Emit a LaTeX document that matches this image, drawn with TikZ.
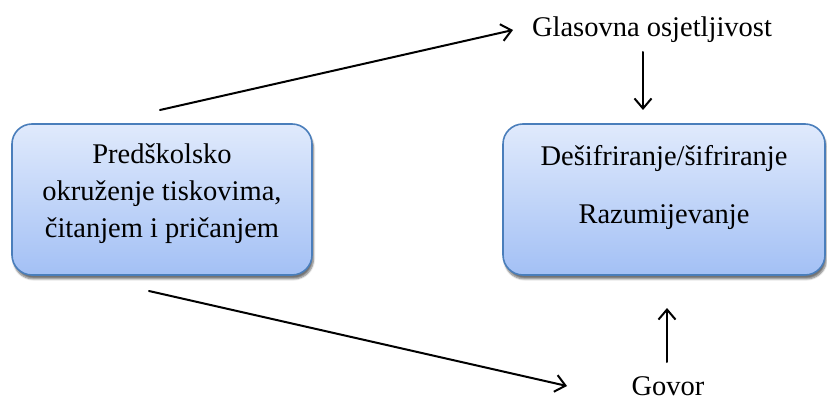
\documentclass[tikz,border=0pt]{standalone}
\usepackage{fontspec}
\setmainfont{Liberation Serif}
\usetikzlibrary{arrows.meta,shadows.blur}
\definecolor{boxtop}{HTML}{E0EAFC}
\definecolor{boxbot}{HTML}{A3C0F5}
\definecolor{boxline}{HTML}{4A7EBB}
\tikzset{
  bluebox/.style={draw=boxline, line width=1.6pt, rounded corners=20pt,
    top color=boxtop, bottom color=boxbot,
    blur shadow={shadow xshift=1.5pt, shadow yshift=-4pt, shadow blur steps=6, shadow opacity=55},
    inner sep=0pt},
  txt/.style={font=\fontsize{28.5}{37}\selectfont, align=center, inner sep=0pt},
  arr/.style={-{Straight Barb[length=10pt,width=17pt,line width=2pt]}, line width=2pt, line cap=round}
}
\begin{document}
\begin{tikzpicture}[x=1pt,y=1pt]
\useasboundingbox (0,0) rectangle (827,402);
\node[bluebox, minimum width=300pt, minimum height=151pt] (lb) at (162,202.5) {};
\node[bluebox, minimum width=322pt, minimum height=151pt] (rb) at (664,202.5) {};
\node[txt] (lt) at (162,208) {Predškolsko\\okruženje tiskovima,\\čitanjem i pričanjem};
\node[txt] (rt) at (664,214.5) {Dešifriranje/šifriranje\\[21pt]Razumijevanje};
\node[txt, anchor=base] (gl) at (652,365) {Glasovna osjetljivost};
\node[txt, anchor=base] (gv) at (668,7) {Govor};
\coordinate (a1s) at (160,292);
\coordinate (a1e) at (513,372);
\coordinate (a2s) at (149,111);
\coordinate (a2e) at (567,16);
\coordinate (a3s) at (643,350);
\coordinate (a3e) at (643,292);
\coordinate (a4s) at (667,40);
\coordinate (a4e) at (667,94);
\draw[arr] (a1s) -- (a1e);
\draw[arr] (a2s) -- (a2e);
\draw[arr] (a3s) -- (a3e);
\draw[arr] (a4s) -- (a4e);
\end{tikzpicture}
\end{document}
